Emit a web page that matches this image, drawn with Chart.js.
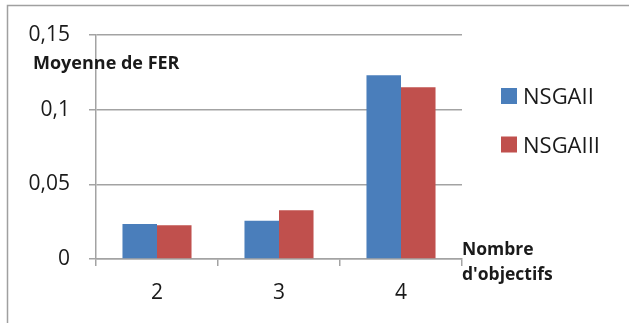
<!DOCTYPE html>
<html>
<head>
<meta charset="utf-8">
<script src="https://cdn.jsdelivr.net/npm/chart.js@4/dist/chart.umd.min.js"></script>
<style>
  html, body { margin: 0; padding: 0; background: #ffffff; }
  #wrap { width: 629px; height: 323px; position: relative; }
</style>
</head>
<body>
<div id="wrap"><canvas id="c" width="629" height="323"></canvas></div>
<script>
// Number of objectives (categories)
const categories = ['2', '3', '4'];
// Mean FER per algorithm
const nsgaII = [0.0234, 0.0256, 0.123];
const nsgaIII = [0.0226, 0.0326, 0.115];
// Value-axis labels, French decimal comma
const yTickLabels = ['0', '0,05', '0,1', '0,15'];

const seriesNames = ['NSGAII', 'NSGAIII'];
const seriesColors = ['#4A7EBB', '#C0504D'];
const gridGrey = '#a3a3a3';
const FONT = '"Open Sans", sans-serif';

// Frame, axis titles and legend drawn around the plot area
const decorations = {
  id: 'decorations',
  beforeDraw(chart) {
    const ctx = chart.ctx;
    ctx.save();
    ctx.fillStyle = '#ffffff';
    ctx.fillRect(0, 0, chart.width, chart.height);
    ctx.strokeStyle = '#a0a0a0';
    ctx.lineWidth = 1.5;
    ctx.beginPath();
    ctx.moveTo(7.5, chart.height);
    ctx.lineTo(7.5, 5.5);
    ctx.lineTo(chart.width, 5.5);
    ctx.stroke();
    ctx.restore();
  },
  afterDraw(chart) {
    const ctx = chart.ctx;
    const area = chart.chartArea;
    ctx.save();
    ctx.fillStyle = '#1a1a1a';
    ctx.textAlign = 'left';
    ctx.textBaseline = 'alphabetic';
    ctx.font = 'bold 18px ' + FONT;
    ctx.fillText('Moyenne de FER', 33, 69);
    ctx.font = 'bold 17.5px ' + FONT;
    ctx.fillText('Nombre', area.right, 255);
    ctx.fillText("d'objectifs", area.right, 280);

    // Legend built from the datasets
    ctx.font = '22px ' + FONT;
    chart.data.datasets.forEach((ds, i) => {
      const base = 104 + i * 48.5;
      ctx.fillStyle = ds.backgroundColor;
      ctx.fillRect(501, base - 16, 16, 16);
      ctx.fillStyle = '#1a1a1a';
      ctx.fillText(ds.label, 523, base);
    });
    ctx.restore();
  }
};

new Chart(document.getElementById('c'), {
  type: 'bar',
  data: {
    labels: categories,
    datasets: [
      { label: seriesNames[0], data: nsgaII, backgroundColor: seriesColors[0] },
      { label: seriesNames[1], data: nsgaIII, backgroundColor: seriesColors[1] }
    ]
  },
  options: {
    responsive: false,
    animation: false,
    devicePixelRatio: 1,
    layout: { padding: { top: 35, right: 167, bottom: 0, left: 0 } },
    datasets: { bar: { categoryPercentage: 0.566, barPercentage: 1.0 } },
    plugins: {
      legend: { display: false },
      tooltip: { enabled: false }
    },
    scales: {
      x: {
        offset: true,
        grid: { display: true, drawOnChartArea: false, drawTicks: true, tickLength: 7, color: gridGrey, lineWidth: 1.5, offset: true },
        border: { display: true, color: gridGrey, width: 1.5 },
        ticks: { color: '#1a1a1a', font: { family: FONT, size: 21 }, padding: 14 },
        afterFit(scale) { scale.height = 64; }
      },
      y: {
        min: 0,
        max: 0.15,
        ticks: {
          stepSize: 0.05,
          color: '#1a1a1a',
          font: { family: FONT, size: 21 },
          padding: 19,
          callback: (v, i) => yTickLabels[i]
        },
        grid: { color: gridGrey, lineWidth: 1.5, tickLength: 7, drawTicks: true },
        border: { display: true, color: gridGrey, width: 1.5 },
        afterFit(scale) { scale.width = 96; }
      }
    }
  },
  plugins: [decorations]
});
</script>
</body>
</html>
